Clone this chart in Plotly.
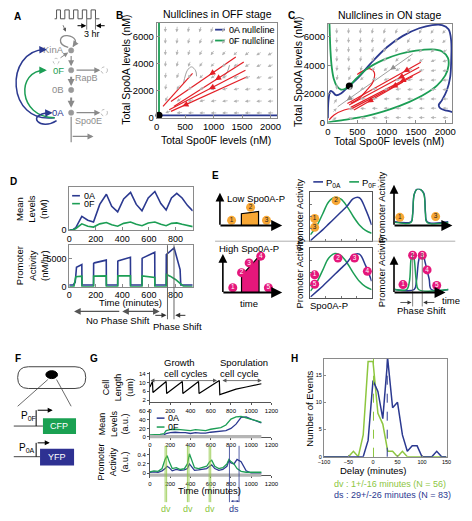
import math
import plotly.graph_objects as go

W, H = 472, 521
FONT = "Arial, Liberation Sans, Helvetica, sans-serif"
BLUE = "#2b3990"
GREEN = "#1c9e55"
LGREEN = "#8dc63f"
RED = "#e31f26"
FIELD = "#b3b3b3"
TGRAY = "#8c8c8c"
ORANGE = "#f7a735"
PINK = "#e5177b"

# ==================== DATA ====================
# --- B: nullclines in OFF stage (nM) ---
b_null0a_x = [0, 2120]
b_null0a_y = [170, 170]
b_null0f_x = [40, 40]
b_null0f_y = [0, 7000]
b_fixed_x = [40]
b_fixed_y = [170]
b_field_x = [150, 350, 550, 750, 950, 1150, 1350, 1550, 1750, 1950]
b_field_y = [6300, 5450, 4600, 3750, 2900, 2050, 1200, 350]
b_field_deg = [
    [-92, -96, -100, -106, -112, -118, -124, -130, -135, -140],
    [-92, -97, -104, -112, -118, -124, -130, -136, -141, -146],
    [-93, -100, -108, -117, -124, -130, -137, -143, -148, -152],
    [-94, -103, -114, -124, -133, -140, -146, -151, -155, -158],
    [-96, -110, -124, -136, -145, -151, -156, -160, -162, -164],
    [-100, -122, -142, -152, -159, -163, -166, -168, -169, -170],
    [-115, -148, -162, -167, -171, -173, -174, -175, -176, -176],
    [-160, -176, -179, 180, 180, 180, 180, 180, 180, 180],
]
b_traj_x0 = [630, 1390, 1530, 1560, 1590]
b_traj_y0 = [3260, 4480, 4110, 3500, 3020]
b_traj_x1 = [110, 250, 300, 220, 250]
b_traj_y1 = [830, 1190, 830, 580, 460]
b_traj_head = [0.57, 0.41, 0.41, 0.48, 0.85]
b_gray_x = [470, 540, 613, 685, 700]
b_gray_y = [2530, 3500, 3745, 3450, 3050]
b_gray2_x = [1280, 1241, 1169]
b_gray2_y = [3870, 3380, 2970]

# --- C: nullclines in ON stage (nM) ---
c_null0a_x = [0, 11, 44, 83, 138, 222, 333, 500, 722, 1000, 1277, 1555, 1777, 1944, 2055, 2100, 2100,
              2083, 2027, 1944, 1888, 1916, 2027, 2122]
c_null0a_y = [300, 1566, 2208, 2140, 1911, 2028, 2442, 3063, 4098, 5244, 6051, 6583, 6810, 6810, 6514,
              5706, 4326, 3174, 2256, 1566, 1221, 994, 828, 738]
c_null0f_x = [27, 33, 44, 66, 100, 155, 222, 288, 361, 500, 667, 944, 1222, 1500, 1777, 1944, 2044, 2055,
              2000, 1861, 1667, 1389, 1055, 667, 278, 55, 0]
c_null0f_y = [6900, 6168, 5016, 3864, 3063, 2532, 2304, 2346, 2553, 3132, 3753, 4374, 4788, 5016, 5106,
              4968, 4512, 3981, 3291, 2601, 2028, 1449, 924, 462, 186, 48, 0]
c_fixed_x = [365]
c_fixed_y = [2560]
c_field_x = [150, 350, 550, 750, 950, 1150, 1350, 1550, 1750, 1950]
c_field_y = [6200, 5550, 4900, 4250, 3600, 2950, 2300, 1650, 1000, 350]
c_field_deg = [
    [-90, -92, -95, -100, -105, -110, -115, -120, -125, -130],
    [-90, -92, -95, -100, -105, -110, -118, -125, -130, -135],
    [-90, -92, -98, -105, -110, -118, -125, -135, -140, -150],
    [-92, -95, -100, -110, -120, -130, -140, -150, -160, -165],
    [-95, -100, -110, -125, -140, -150, -160, -165, -170, -172],
    [-100, -115, -135, -150, -160, -165, -170, -172, -175, -176],
    [-90, -150, -160, -165, -170, -172, -175, -176, -178, -178],
    [60, -170, -172, -175, -177, -178, -179, 180, 180, 180],
    [45, 170, 175, 178, 180, 180, 180, 180, 180, 180],
    [30, 160, 170, 175, 178, 180, 180, 180, 180, 180],
]
c_traj_x0 = [1583, 1555, 1583, 1444, 1277]
c_traj_y0 = [4210, 3864, 3588, 3222, 2829]
c_traj_x1 = [333, 361, 389, 416, 444]
c_traj_y1 = [1339, 1221, 1063, 994, 876]
c_traj_head = [0.24, 0.3, 0.3, 0.35, 0.73]
c_curve_x = [500, 640, 722, 789, 767, 650, 528, 389]
c_curve_y = [3360, 3700, 3753, 3519, 2829, 2200, 1684, 1339]
c_curve2_x = [22, 105, 278, 430]
c_curve2_y = [186, 531, 876, 1000]
c_gray_x = [1444, 167]
c_gray_y = [4788, 1104]

# --- D: simulated levels and promoter activity ---
d_mean_t = [0, 30, 50, 70, 95, 140, 183, 230, 280, 320, 365, 410, 462, 505, 548, 595, 645, 690, 730,
            770, 810, 850, 890, 930]
d_mean_0a = [0, 100, 300, 900, 1500, 1100, 900, 2800, 3900, 2600, 2000, 3400, 4100, 2800, 2100, 3500,
             4200, 2900, 2200, 3500, 4000, 3500, 2700, 2100]
d_mean_0f = [0, 50, 200, 450, 700, 450, 350, 700, 850, 600, 450, 750, 900, 650, 500, 800, 900, 650, 500,
             750, 800, 650, 500, 400]
d_act_t_0a = [0, 30, 45, 50, 55, 95, 96, 183, 184, 190, 279, 280, 365, 366, 372, 461, 462, 548, 549, 555,
              644, 645, 730, 731, 790, 835, 840, 930]
d_act_0a = [300, 300, 800, 3000, 3500, 4000, 300, 300, 4200, 4300, 4800, 300, 300, 4600, 4700, 5300, 300,
            300, 5100, 5200, 6200, 300, 300, 5800, 7000, 3100, 300, 300]
d_act_t_0f = [0, 35, 50, 95, 96, 183, 184, 279, 280, 365, 366, 461, 462, 548, 549, 600, 644, 645, 730,
              732, 760, 800, 840, 860, 930]
d_act_0f = [0, 0, 1800, 1900, 0, 0, 1900, 1950, 0, 0, 1950, 1950, 0, 0, 1950, 1850, 1650, 0, 0, 2200,
            1900, 1300, 500, 100, 0]
d_shift_t = [740, 789]

# --- E: schematic promoter responses ---
e_spo = [0, .1, .2, .3, .4, .5, .6, .7, .8, .9, 1]
e_p0f = [0.13, 0.3, 0.55, 0.8, 0.89, 0.85, 0.7, 0.5, 0.33, 0.22, 0.16]
e_p0a = [0.01, 0.12, 0.23, 0.35, 0.47, 0.59, 0.71, 0.86, 0.88, 0.65, 0.33]
e_low_t = [0.35, 0.35, 0.63, 0.63]
e_low_v = [0, 0.37, 0.44, 0]
e_high_t = [0.32, 0.32, 0.62, 0.62]
e_high_v = [0, 0.45, 0.97, 0]
e_rt_t = [0, 0.3, 0.33, 0.36, 0.42, 0.48, 0.54, 0.57, 0.6, 1]
e_rt_0f = [0.08, 0.08, 0.3, 0.85, 1.0, 0.98, 0.85, 0.3, 0.08, 0.08]
e_rt_0a = [0.1, 0.1, 0.3, 0.85, 1.0, 0.98, 0.88, 0.35, 0.1, 0.1]
e_rb_t_0f = [0, 0.22, 0.27, 0.3, 0.33, 0.36, 0.4, 0.44, 1]
e_rb_0f = [0.07, 0.07, 0.25, 0.75, 0.89, 0.75, 0.25, 0.07, 0.07]
e_rb_t_0a = [0, 0.36, 0.4, 0.44, 0.48, 0.52, 0.56, 0.6, 0.64, 0.68, 1]
e_rb_0a = [0.07, 0.07, 0.25, 0.7, 0.88, 0.89, 0.7, 0.5, 0.3, 0.07, 0.07]
e_shift_t = [0.33, 0.51]

# --- G: single-cell measurements ---
g_len_t = [0, 25, 30, 160, 165, 320, 325, 480, 485, 685, 690, 760, 850, 950, 1050, 1100]
g_len_v = [8, 10.5, 5.5, 10.5, 5, 10.5, 5, 10.5, 5, 11, 4.5, 5.5, 7, 8, 9, 9.5]
g_mean_t = [0, 50, 100, 140, 160, 200, 250, 300, 350, 400, 450, 500, 550, 600, 650, 700, 750, 800, 850,
            900, 950, 1000, 1050, 1100]
g_mean_0f = [5, 5, 6, 8, 15, 17, 18, 17, 16, 15, 17, 16, 15, 18, 20, 22, 28, 42, 47, 48, 45, 42, 38, 34]
g_mean_0a = [3, 3, 4, 5, 8, 10, 11, 10, 10, 8, 10, 9, 9, 11, 12, 14, 15, 20, 30, 46, 47, 42, 37, 33]
g_act_t = [0, 40, 80, 120, 150, 170, 190, 220, 260, 300, 340, 370, 390, 410, 440, 480, 520, 560, 590,
           610, 640, 680, 720, 760, 780, 800, 830, 860, 900, 950, 1000, 1050, 1100]
g_act_0f = [0.03, 0.05, 0.04, 0.1, 0.3, 0.38, 0.25, 0.1, 0.12, 0.08, 0.1, 0.2, 0.42, 0.3, 0.12, 0.1, 0.12,
            0.15, 0.25, 0.28, 0.15, 0.1, 0.12, 0.2, 0.3, 0.25, 0.2, 0.1, 0.04, 0.02, 0.02, 0.02, 0.02]
g_act_0a = [0.02, 0.03, 0.02, 0.05, 0.1, 0.15, 0.12, 0.05, 0.08, 0.06, 0.07, 0.1, 0.2, 0.15, 0.06, 0.07,
            0.08, 0.1, 0.15, 0.18, 0.1, 0.06, 0.08, 0.15, 0.28, 0.22, 0.2, 0.3, 0.25, 0.05, 0.0, 0.0, 0.0]
g_dv_t0 = [150, 370, 585]
g_dv_t1 = [165, 385, 600]
g_ds_t = [785, 880]

# --- H: delay histograms ---
h_delay = [-100, -90, -80, -70, -60, -50, -40, -30, -20, -10, 0, 10, 20, 30, 40, 50, 60, 70, 80, 90, 100,
           110, 120, 130, 140, 150]
h_dv = [0, 0, 0, 0, 0, 0, 1, 0, 4, 17.5, 17.5, 8, 6, 1, 1, 0, 1, 0, 0, 0, 0, 0, 0, 0, 0, 0]
h_ds = [0, 0, 0, 0, 0, 0, 0, 0, 0, 3, 14, 12, 7, 18, 9, 10, 4, 1, 2, 2, 0, 0, 0, 1, 0, 0]
h_dv_mean = 1
h_ds_mean = 29

# ==================== FIGURE ====================
traces, shapes, anns = [], [], []
layout = dict(width=W, height=H, autosize=False, margin=dict(l=0, r=0, t=0, b=0, pad=0),
              paper_bgcolor="white", plot_bgcolor="rgba(0,0,0,0)", showlegend=False,
              font=dict(family=FONT, size=10, color="black"))


def xn(i):
    return "x" if i == 1 else f"x{i}"


def yn(i):
    return "y" if i == 1 else f"y{i}"


def sc(i, x, y, **kw):
    d = dict(x=x, y=y, xaxis=xn(i), yaxis=yn(i), hoverinfo="skip", showlegend=False)
    d.update(kw)
    traces.append(go.Scatter(**d))


def axis(i, x0, x1, y0, y1, xr, yr, xkw=None, ykw=None):
    base = dict(showgrid=False, zeroline=False, fixedrange=True)
    xa = dict(base, domain=[x0 / W, x1 / W], range=xr, anchor=yn(i))
    ya = dict(base, domain=[1 - y1 / H, 1 - y0 / H], range=yr, anchor=xn(i))
    xa.update(xkw or {})
    ya.update(ykw or {})
    layout["xaxis" if i == 1 else f"xaxis{i}"] = xa
    layout["yaxis" if i == 1 else f"yaxis{i}"] = ya


CV = 15  # canvas axes (pixel coordinates)


def txt(x, y, s, size=10, color="black", xa="center", ya="middle", angle=0, bold=False):
    anns.append(dict(x=x, y=y, xref="x15", yref="y15", text=(f"<b>{s}</b>" if bold else s),
                     showarrow=False, font=dict(size=size, color=color, family=FONT),
                     xanchor=xa, yanchor=ya, textangle=angle))


def ln(x0, y0, x1, y1, color="black", w=1, dash="solid", xref="x15", yref="y15"):
    shapes.append(dict(type="line", x0=x0, y0=y0, x1=x1, y1=y1, xref=xref, yref=yref,
                       line=dict(color=color, width=w, dash=dash), layer="above"))


def pth(p, color="black", w=1, dash="solid", fill=None):
    shapes.append(dict(type="path", path=p, xref="x15", yref="y15", layer="above",
                       line=dict(color=color, width=w, dash=dash),
                       fillcolor=fill if fill else "rgba(0,0,0,0)"))


def circ(cx, cy, r, color="black", fill=None, w=1, dash="solid"):
    shapes.append(dict(type="circle", x0=cx - r, x1=cx + r, y0=cy - r, y1=cy + r, xref="x15", yref="y15",
                       layer="above", line=dict(color=color, width=w, dash=dash),
                       fillcolor=fill if fill else "rgba(0,0,0,0)"))


def arr(x0, y0, x1, y1, color="black", w=1, size=1, head=2, both=False, xref="x15", yref="y15"):
    anns.append(dict(x=x1, y=y1, ax=x0, ay=y0, xref=xref, yref=yref, axref=xref, ayref=yref,
                     showarrow=True, arrowhead=head, arrowsize=size, arrowwidth=w, arrowcolor=color,
                     text="", standoff=0, startstandoff=0, arrowside=("end+start" if both else "end"),
                     startarrowhead=head, startarrowsize=size))


def field(i, gx, gy, deg, L=7):
    for r, yv in enumerate(gy):
        for c, xv in enumerate(gx):
            th = math.radians(deg[r][c])
            anns.append(dict(x=xv, y=yv, xref=xn(i), yref=yn(i), ax=-L * math.cos(th), ay=L * math.sin(th),
                             showarrow=True, arrowhead=2, arrowsize=0.8, arrowwidth=0.8, arrowcolor=FIELD,
                             text="", standoff=0, startstandoff=0))


def seg_arrows(i, x0s, y0s, x1s, y1s, fr, color, w=1.1, size=1.1, back=0.06):
    for a, b, c, d, f in zip(x0s, y0s, x1s, y1s, fr):
        hx, hy = a + f * (c - a), b + f * (d - b)
        tx, ty = a + (f - back) * (c - a), b + (f - back) * (d - b)
        anns.append(dict(x=hx, y=hy, ax=tx, ay=ty, xref=xn(i), yref=yn(i), axref=xn(i), ayref=yn(i),
                         showarrow=True, arrowhead=2, arrowsize=size, arrowwidth=w, arrowcolor=color,
                         text="", standoff=0, startstandoff=0))


def joined(x0s, y0s, x1s, y1s):
    xs, ys = [], []
    for a, b, c, d in zip(x0s, y0s, x1s, y1s):
        xs += [a, c, None]
        ys += [b, d, None]
    return xs, ys


BOX = dict(showline=True, mirror=True, linecolor="#8a8a8a", linewidth=1, ticks="inside", ticklen=3,
           tickcolor="#8a8a8a", tickfont=dict(size=9.5, family=FONT))

# ---------- Panel B ----------
axis(1, 155, 279, 22, 118, [0, 2120], [0, 7000],
     dict(BOX, tickvals=[0, 500, 1000, 1500, 2000]),
     dict(BOX, tickvals=[0, 2000, 4000, 6000]))
field(1, b_field_x, b_field_y, b_field_deg)
sc(1, b_gray_x, b_gray_y, mode="lines", line=dict(color="#a0a0a0", width=1, shape="spline"))
sc(1, b_gray2_x, b_gray2_y, mode="lines", line=dict(color="#a0a0a0", width=1, shape="spline"))
bx, by = joined(b_traj_x0, b_traj_y0, b_traj_x1, b_traj_y1)
sc(1, bx, by, mode="lines", line=dict(color=RED, width=1.2))
seg_arrows(1, b_traj_x0, b_traj_y0, b_traj_x1, b_traj_y1, b_traj_head, RED)
seg_arrows(1, b_gray_x[-1:], b_gray_y[-1:], b_gray_x[-2:-1], b_gray_y[-2:-1], [0.9], "#909090", 1, 1.1)
seg_arrows(1, b_gray2_x[-1:], b_gray2_y[-1:], b_gray2_x[:1], b_gray2_y[:1], [0.3], "#909090", 1, 1.1)
sc(1, b_null0a_x, b_null0a_y, mode="lines", line=dict(color=BLUE, width=1.8))
sc(1, b_null0f_x, b_null0f_y, mode="lines", line=dict(color=GREEN, width=1.8))
sc(1, b_fixed_x, b_fixed_y, mode="markers", marker=dict(color="black", size=7), cliponaxis=False)
txt(217, 13, "Nullclines in OFF stage", 10.5)
txt(216, 141, "Total Spo0F levels (nM)", 10.5)
txt(124, 70, "Total Spo0A levels (nM)", 10.5, angle=-90)
ln(215, 29, 225, 29, BLUE, 1.8)
txt(227, 29, "0A nullcline", 9, xa="left")
ln(215, 40, 225, 40, GREEN, 1.8)
txt(227, 40, "0F nullcline", 9, xa="left")

# ---------- Panel C ----------
axis(2, 331, 459, 23, 123, [0, 2120], [0, 6900],
     dict(BOX, tickvals=[0, 500, 1000, 1500, 2000]),
     dict(BOX, tickvals=[0, 2000, 4000, 6000]))
field(2, c_field_x, c_field_y, c_field_deg)
sc(2, c_gray_x, c_gray_y, mode="lines", line=dict(color="#a0a0a0", width=1))
seg_arrows(2, [c_gray_x[0]] * 2, [c_gray_y[0]] * 2, [c_gray_x[1]] * 2, [c_gray_y[1]] * 2, [0.3, 0.88],
           "#909090", 1, 1.1)
cx_, cy_ = joined(c_traj_x0, c_traj_y0, c_traj_x1, c_traj_y1)
sc(2, cx_, cy_, mode="lines", line=dict(color=RED, width=1.2))
seg_arrows(2, c_traj_x0, c_traj_y0, c_traj_x1, c_traj_y1, c_traj_head, RED)
sc(2, c_curve_x, c_curve_y, mode="lines", line=dict(color=RED, width=1.2, shape="spline"))
seg_arrows(2, c_curve_x[3:4], c_curve_y[3:4], c_curve_x[4:5], c_curve_y[4:5], [0.35], RED)
sc(2, c_curve2_x, c_curve2_y, mode="lines", line=dict(color=RED, width=1.2, shape="spline"))
sc(2, c_null0a_x, c_null0a_y, mode="lines", line=dict(color=BLUE, width=1.8, shape="spline"))
sc(2, c_null0f_x, c_null0f_y, mode="lines", line=dict(color=GREEN, width=1.8, shape="spline"))
sc(2, c_fixed_x, c_fixed_y, mode="markers", marker=dict(color="black", size=7))
txt(394, 14, "Nullclines in ON stage", 10.5)
txt(394, 142, "Total Spo0F levels (nM)", 10.5)
txt(300, 72, "Total Spo0A levels (nM)", 10.5, angle=-90)

# ---------- Panel D ----------
DBOX = dict(BOX, tickfont=dict(size=9, family=FONT))
axis(3, 65, 192, 188, 232, [0, 930], [0, 4700],
     dict(DBOX, tickvals=[0, 200, 400, 600, 800]), dict(DBOX, tickvals=[0]))
sc(3, d_mean_t, d_mean_0a, mode="lines", line=dict(color=BLUE, width=1.6))
sc(3, d_mean_t, d_mean_0f, mode="lines", line=dict(color=GREEN, width=1.6))
axis(4, 65, 192, 247, 289, [0, 930], [0, 7500],
     dict(DBOX, tickvals=[0, 200, 400, 600, 800]), dict(DBOX, tickvals=[0, 5000]))
sc(4, d_act_t_0a, d_act_0a, mode="lines", line=dict(color=BLUE, width=1.6))
sc(4, d_act_t_0f, d_act_0f, mode="lines", line=dict(color=GREEN, width=1.6))
ln(68, 197, 76, 197, BLUE, 1.6)
txt(78, 197, "0A", 9, xa="left")
ln(68, 205, 76, 205, GREEN, 1.6)
txt(78, 205, "0F", 9, xa="left")
txt(26, 210, "Mean<br>Levels<br>(nM)", 9.5, angle=-90)
txt(27, 268, "Promoter<br>Activity<br>(nM/hr)", 9.5, angle=-90)
txt(128, 305.5, "Time (minutes)", 9.5)
for t in d_shift_t:
    ln(t, 247, t, 322, "#666666", 1, xref="x4")
arr(118, 314, 158, 314, "#555555", 1.2, 1.1, both=True)
arr(118, 314, 70, 314, "#555555", 1.2, 1.1)
txt(115, 323, "No Phase Shift", 9.5)
arr(152, 318, 165, 318, "#333333", 1, 1)
arr(186, 318, 174, 318, "#333333", 1, 1)
txt(176, 329, "Phase Shift", 9.5)

# ---------- Panel E ----------
EBOX = dict(showline=True, mirror=True, linecolor="#555555", linewidth=1, ticks="inside", ticklen=2,
            tickcolor="#777777", showticklabels=False)
axis(5, 313, 376, 193, 243, [0, 1], [0, 1], dict(EBOX, dtick=0.25), dict(EBOX, dtick=0.25))
axis(6, 313, 376, 250, 300, [0, 1], [0, 1], dict(EBOX, dtick=0.25), dict(EBOX, dtick=0.25))
for i in (5, 6):
    sc(i, e_spo, e_p0f, mode="lines", line=dict(color=GREEN, width=1.5, shape="spline"))
    sc(i, e_spo, e_p0a, mode="lines", line=dict(color=BLUE, width=1.5, shape="spline"))
HID = dict(visible=False)
axis(7, 400, 455, 190, 227, [0, 1], [0, 1], HID, HID)
sc(7, e_rt_t, e_rt_0a, mode="lines", line=dict(color=BLUE, width=1.5, shape="spline"), cliponaxis=False)
sc(7, e_rt_t, e_rt_0f, mode="lines", line=dict(color=GREEN, width=1.3, shape="spline"), cliponaxis=False)
axis(8, 400, 455, 250, 295, [0, 1], [0, 1], HID, HID)
sc(8, e_rb_t_0a, e_rb_0a, mode="lines", line=dict(color=BLUE, width=1.5, shape="spline"), cliponaxis=False)
sc(8, e_rb_t_0f, e_rb_0f, mode="lines", line=dict(color=GREEN, width=1.5, shape="spline"), cliponaxis=False)
axis(9, 220, 283, 195, 227, [0, 1], [0, 1], HID, HID)
sc(9, e_low_t, e_low_v, mode="lines", fill="toself", fillcolor=ORANGE, line=dict(color="black", width=1.2))
axis(10, 223, 283, 257, 295, [0, 1], [0, 1], HID, HID)
sc(10, e_high_t, e_high_v, mode="lines", fill="toself", fillcolor=PINK, line=dict(color="black", width=1.2))


def badges(i, xs, ys, labels, color, tcolor):
    sc(i, xs, ys, mode="markers+text", text=labels, textposition="middle center",
       marker=dict(color=color, size=9), textfont=dict(size=6.5, color=tcolor, family=FONT), cliponaxis=False)


badges(9, [0.19, 0.5, 0.76], [0.16, 0.57, 0.16], ["1", "2", "3"], ORANGE, "#222222")
badges(10, [0.17, 0.32, 0.45, 0.65, 0.78], [0.13, 0.53, 0.79, 0.97, 0.13], ["1", "2", "3", "4", "5"], PINK, "white")
badges(5, [0.07, 0.07, 0.42], [0.46, 0.28, 0.82], ["1", "3", "2"], ORANGE, "#222222")
badges(6, [0.07, 0.07, 0.45, 0.72, 0.93], [0.46, 0.27, 0.8, 0.8, 0.53], ["1", "5", "2", "3", "4"], PINK, "white")
badges(7, [0.09, 0.42, 0.76], [0.22, 1.05, 0.24], ["1", "2", "3"], ORANGE, "#222222")
badges(8, [0.15, 0.33, 0.51, 0.6, 0.78], [0.18, 0.84, 0.84, 0.51, 0.16], ["1", "2", "3", "4", "5"], PINK, "white")
# E axes arrows & labels
arr(220, 228, 220, 194, "black", 1.6, 1.1)
arr(219, 227, 284, 227, "black", 2, 1.1)
txt(225, 200, "Low Spo0A-P", 9.5, xa="left")
arr(223, 296, 223, 256, "black", 1.6, 1.1)
arr(222, 295, 284, 295, "black", 2, 1.1)
txt(250, 250, "High Spo0A-P", 9.5)
txt(250, 306, "time", 9.5)
arr(399, 228, 399, 186, "black", 1.6, 1.1)
arr(398, 227, 459, 227, "black", 2, 1.1)
arr(399, 296, 399, 258, "black", 1.6, 1.1)
arr(398, 295, 452, 295, "black", 2, 1.1)
txt(469, 303, "time", 9.5, xa="right")
for t in e_shift_t:
    ln(t, 255, t, 309, "#666666", 0.8, xref="x8")
arr(404, 305, 417, 305, "#333333", 0.8, 1)
arr(442, 305, 429, 305, "#333333", 0.8, 1)
txt(427, 313, "Phase Shift", 9.5)
txt(302, 216, "Promoter Activity", 9.5, angle=-90)
txt(302, 275, "Promoter Activity", 9.5, angle=-90)
txt(386, 208, "Promoter Activity", 9.5, angle=-90)
txt(386, 273, "Promoter Activity", 9.5, angle=-90)
txt(332, 308, "Spo0A-P", 9.5)
ln(215, 243, 462, 243, "#999999", 0.8)
ln(316, 183, 326, 183, BLUE, 1.6)
txt(327, 184, "P<sub>0A</sub>", 9.5, xa="left")
ln(353, 183, 363, 183, GREEN, 1.6)
txt(364, 184, "P<sub>0F</sub>", 9.5, xa="left")

# ---------- Panel G ----------
GX = dict(showline=True, linecolor="#555555", linewidth=1, ticks="outside", ticklen=2, tickcolor="#555555",
          tickfont=dict(size=6, family=FONT), tickvals=[0, 200, 400, 600, 800, 1000, 1200])
GY = dict(showline=True, linecolor="#555555", linewidth=1, ticks="outside", ticklen=2, tickcolor="#555555",
          tickfont=dict(size=6, family=FONT))
axis(11, 148, 273, 375, 406, [0, 1200], [1, 15], GX, dict(GY, tickvals=[2, 6, 10, 14]))
sc(11, g_len_t, g_len_v, mode="lines", line=dict(color="black", width=1.2))
axis(12, 148, 273, 413, 441, [0, 1200], [0, 65], GX, dict(GY, tickvals=[0, 20, 40, 60]))
sc(12, g_mean_t, g_mean_0a, mode="lines", line=dict(color=BLUE, width=1.3))
sc(12, g_mean_t, g_mean_0f, mode="lines", line=dict(color=GREEN, width=1.3))
axis(13, 148, 273, 452, 480, [0, 1200], [-0.05, 0.55], GX,
     dict(GY, tickvals=[0, 0.2, 0.4], ticktext=["0", "0.2", "0.4"]))
sc(13, g_act_t, g_act_0a, mode="lines", line=dict(color=BLUE, width=1.3))
sc(13, g_act_t, g_act_0f, mode="lines", line=dict(color=GREEN, width=1.3))
for i in (12, 13):
    shapes.append(dict(type="rect", xref=xn(i), yref=f"{yn(i)} domain", x0=0, x1=1100, y0=-0.05, y1=0.07,
                       fillcolor="#b5b5b5", line=dict(width=0), layer="above"))
ln(155, 422, 163, 422, BLUE, 1.5)
txt(165, 422, "0A", 9, xa="left")
ln(155, 431, 163, 431, GREEN, 1.5)
txt(165, 431, "0F", 9, xa="left")
for a, b in zip(g_dv_t0, g_dv_t1):
    ln(a, 450, a, 507, LGREEN, 0.8, xref="x13")
    ln(b, 450, b, 507, LGREEN, 0.8, xref="x13")
    anns.append(dict(x=b, y=506, ax=a, ay=506, xref="x13", yref="y15", axref="x13", ayref="y15",
                     showarrow=True, arrowhead=2, arrowsize=0.6, arrowwidth=0.8, arrowcolor=LGREEN,
                     arrowside="end+start", text="", standoff=0, startstandoff=0))
    anns.append(dict(x=(a + b) / 2, y=514, xref="x13", yref="y15", text="dv", showarrow=False,
                     font=dict(size=9, color=LGREEN, family=FONT)))
ln(g_ds_t[0], 450, g_ds_t[0], 507, BLUE, 0.8, xref="x13")
ln(g_ds_t[1], 450, g_ds_t[1], 507, BLUE, 0.8, xref="x13")
anns.append(dict(x=g_ds_t[1], y=506, ax=g_ds_t[0], ay=506, xref="x13", yref="y15", axref="x13", ayref="y15",
                 showarrow=True, arrowhead=2, arrowsize=0.6, arrowwidth=0.8, arrowcolor=BLUE,
                 arrowside="end+start", text="", standoff=0, startstandoff=0))
anns.append(dict(x=sum(g_ds_t) / 2, y=514, xref="x13", yref="y15", text="ds", showarrow=False,
                 font=dict(size=9, color=BLUE, family=FONT)))
txt(209, 495, "Time (minutes)", 9.5)
txt(115, 391, "Cell<br>Length<br>(um)", 9, angle=-90)
txt(110, 427, "Mean<br>Levels<br>(a.u.)", 9, angle=-90)
txt(110, 466, "Promoter<br>Activity<br>(a.u.)", 9, angle=-90)
txt(160, 366, "Growth", 9.5, xa="left")
txt(160, 377, "cell cycles", 9.5, xa="left")
txt(218, 366, "Sporulation", 9.5, xa="left")
txt(218, 377, "cell cycle", 9.5, xa="left")
arr(147, 384, 217, 384, "#555555", 0.8, 1, both=True)
arr(221, 384, 263, 384, "#555555", 0.8, 1, both=True)

# ---------- Panel H ----------
HB = dict(showline=True, mirror=True, linecolor="#8a8a8a", linewidth=1, ticks="inside", ticklen=2,
          tickcolor="#8a8a8a", tickfont=dict(size=5.5, family=FONT))
axis(14, 327, 453, 362, 461, [-100, 150], [0, 18],
     dict(HB, tickvals=[-100, -50, 0, 50, 100, 150]), dict(HB, tickvals=[0, 5, 10, 15]))
sc(14, h_delay, h_dv, mode="lines", line=dict(color=LGREEN, width=1.5))
sc(14, h_delay, h_ds, mode="lines", line=dict(color=BLUE, width=1.5))
shapes.append(dict(type="line", xref="x14", yref="y14 domain", x0=h_dv_mean, x1=h_dv_mean, y0=0, y1=1,
                   line=dict(color=LGREEN, width=1, dash="dash"), layer="above"))
shapes.append(dict(type="line", xref="x14", yref="y14 domain", x0=h_ds_mean, x1=h_ds_mean, y0=0, y1=1,
                   line=dict(color=BLUE, width=1, dash="dash"), layer="above"))
txt(378, 475, "Delay (minutes)", 9.5)
txt(312, 412, "Number of Events", 9.5, angle=-90)
txt(335, 489, "dv : 1+/-16 minutes (N = 56)", 9, LGREEN, xa="left")
txt(335, 500, "ds : 29+/-26 minutes (N = 83)", 9, BLUE, xa="left")

# ---------- Panel A (schematic) ----------
edges = [52, 56, 60.5, 65, 69.5, 74, 78.5, 83, 87.5, 92]
p = "M 50,18"
lev = 18
for e in edges:
    p += f" L {e},{lev}"
    lev = 9 if lev == 18 else 18
    p += f" L {e},{lev}"
p += f" L 96,{lev}"
pth(p, "#555555", 1)
ln(83, 18, 83, 29, "#555555", 0.8)
ln(92, 18, 92, 29, "#555555", 0.8)
arr(72, 25, 82.5, 25, "black", 1, 1)
arr(103, 25, 92.5, 25, "black", 1, 1)
txt(88, 33, "3 hr", 9)
arr(58, 23, 61.5, 31, "#555555", 0.8, 0.9)
pth("M 64,47 C 52,44 55,34 63,35 C 71,36 74,41 69,46", "#8a8a8a", 1.3)
arr(71, 43, 68.5, 46.5, "#8a8a8a", 1.2, 1)
circ(51.5, 61, 3, "#aaaaaa", None, 0.8, "dot")
arr(54.5, 58.5, 64, 52, "#8a8a8a", 1, 1)
arr(67, 54, 67, 66, "#8a8a8a", 1.2, 1)
arr(67, 75, 67, 86, "#8a8a8a", 2, 0.7)
arr(67, 96, 67, 108, "#8a8a8a", 2, 0.7)
for yv in (50, 70, 90, 113):
    circ(67, yv, 2.7, "#999999", "#999999", 0.5)
txt(62, 49, "KinA", 9.5, TGRAY, xa="right")
txt(62, 70, "0F", 9.5, GREEN, xa="right")
txt(62, 90, "0B", 9.5, TGRAY, xa="right")
txt(62, 113, "0A", 9.5, BLUE, xa="right")
arr(71, 70, 97, 70, "#8a8a8a", 1.2, 1)
circ(101, 70, 3.3, "#aaaaaa", None, 0.8, "dot")
txt(83, 78, "RapB", 9, TGRAY)
arr(71, 113, 97, 113, "#8a8a8a", 1.2, 1)
circ(101, 113, 3.3, "#aaaaaa", None, 0.8, "dot")
txt(85, 121, "Spo0E", 9, TGRAY)
ln(67, 117, 67, 143, "#8a8a8a", 1.2)
arr(67, 137, 90, 137, "#8a8a8a", 1.2, 1)
pth("M 50,118 C 0,125 -2,50 40,49", BLUE, 1.5)
arr(34, 49.3, 42, 49, BLUE, 1.5, 1)
pth("M 50,118 C 12,118 10,70 40,70", GREEN, 1.5)
arr(34, 70, 42, 70, GREEN, 1.5, 1)
pth("M 52,121 C 35,132 20,115 44,113", BLUE, 1.5)
arr(40, 113.3, 48, 113, BLUE, 1.5, 1)

# ---------- Panel F (schematic) ----------
pth("M 23,370 L 71,370 Q 82,370 82,381 Q 82,392 71,392 L 23,392 Q 12,392 12,381 Q 12,370 23,370 Z",
    "#444444", 1)
shapes.append(dict(type="circle", xref="x15", yref="y15", x0=41, x1=53, y0=374, y1=382,
                   fillcolor="black", line=dict(color="black", width=1), layer="above"))
ln(43, 383, 12, 410, "#444444", 0.8)
ln(52, 383, 67, 410, "#444444", 0.8)
txt(13, 420, "P<sub>0F</sub>", 10, xa="left")
ln(8, 430, 38, 430, "#444444", 1)
ln(31, 430, 31, 414, "black", 1)
arr(31, 414, 48, 414, "black", 1, 1)
shapes.append(dict(type="rect", xref="x15", yref="y15", x0=38, x1=72, y0=422, y1=438,
                   fillcolor="#1aa152", line=dict(width=0), layer="above"))
txt(55, 430, "CFP", 9, "white")
txt(11, 452, "P<sub>0A</sub>", 10, xa="left")
ln(8, 461, 35, 461, "#444444", 1)
ln(31, 461, 31, 447, "black", 1)
arr(31, 447, 45, 447, "black", 1, 1)
shapes.append(dict(type="rect", xref="x15", yref="y15", x0=35, x1=70, y0=453, y1=470,
                   fillcolor="#2e3192", line=dict(width=0), layer="above"))
txt(52.5, 461.5, "YFP", 9, "white")

# ---------- panel letters ----------
for s, x, y in [("A", 12, 16), ("B", 117, 15), ("C", 294, 15), ("D", 8, 183), ("E", 215, 177),
                ("F", 12, 362), ("G", 90, 362), ("H", 297, 362)]:
    txt(x, y, s, 10, bold=True)

# canvas axis
axis(CV, 0, W, 0, H, [0, W], [H, 0], HID, HID)
sc(CV, [0], [0], mode="markers", marker=dict(opacity=0, size=1))

layout["shapes"] = shapes
layout["annotations"] = anns
fig = go.Figure(data=traces, layout=layout)
fig.write_html("out.html", config={"displayModeBar": False, "staticPlot": True},
               post_script="document.body.style.margin='0px';document.body.style.overflow='hidden';")
